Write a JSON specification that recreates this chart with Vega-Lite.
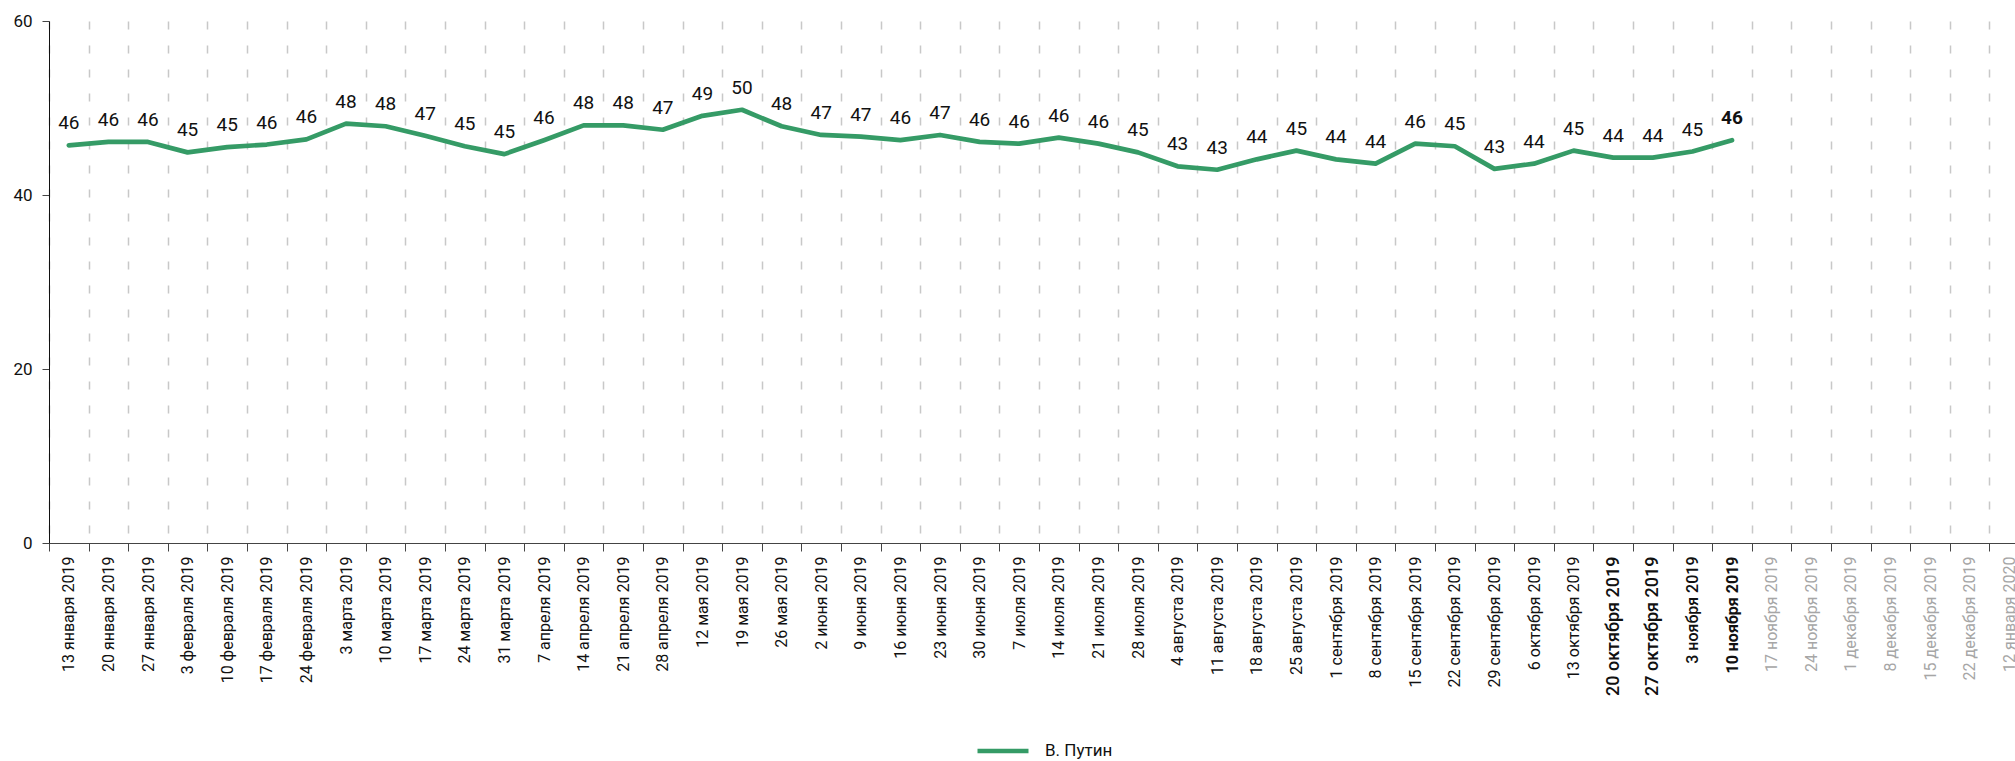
{
  "$schema": "https://vega.github.io/schema/vega-lite/v6.json",
  "autosize": "none",
  "padding": {"left": 49, "top": 21, "right": 0, "bottom": 218},
  "width": 1966,
  "height": 522,
  "config": {"view": {"stroke": null}, "font": "Roboto"},
  "data": {
    "values": [
      {"week": "13 января 2019", "value": 45.7, "label": 46},
      {"week": "20 января 2019", "value": 46.1, "label": 46},
      {"week": "27 января 2019", "value": 46.1, "label": 46},
      {"week": "3 февраля 2019", "value": 44.9, "label": 45},
      {"week": "10 февраля 2019", "value": 45.5, "label": 45},
      {"week": "17 февраля 2019", "value": 45.8, "label": 46},
      {"week": "24 февраля 2019", "value": 46.4, "label": 46},
      {"week": "3 марта 2019", "value": 48.2, "label": 48},
      {"week": "10 марта 2019", "value": 47.9, "label": 48},
      {"week": "17 марта 2019", "value": 46.8, "label": 47},
      {"week": "24 марта 2019", "value": 45.6, "label": 45},
      {"week": "31 марта 2019", "value": 44.7, "label": 45},
      {"week": "7 апреля 2019", "value": 46.3, "label": 46},
      {"week": "14 апреля 2019", "value": 48.0, "label": 48},
      {"week": "21 апреля 2019", "value": 48.0, "label": 48},
      {"week": "28 апреля 2019", "value": 47.5, "label": 47},
      {"week": "12 мая 2019", "value": 49.1, "label": 49},
      {"week": "19 мая 2019", "value": 49.8, "label": 50},
      {"week": "26 мая 2019", "value": 47.9, "label": 48},
      {"week": "2 июня 2019", "value": 46.9, "label": 47},
      {"week": "9 июня 2019", "value": 46.7, "label": 47},
      {"week": "16 июня 2019", "value": 46.3, "label": 46},
      {"week": "23 июня 2019", "value": 46.9, "label": 47},
      {"week": "30 июня 2019", "value": 46.1, "label": 46},
      {"week": "7 июля 2019", "value": 45.9, "label": 46},
      {"week": "14 июля 2019", "value": 46.6, "label": 46},
      {"week": "21 июля 2019", "value": 45.9, "label": 46},
      {"week": "28 июля 2019", "value": 44.9, "label": 45},
      {"week": "4 августа 2019", "value": 43.3, "label": 43},
      {"week": "11 августа 2019", "value": 42.9, "label": 43},
      {"week": "18 августа 2019", "value": 44.1, "label": 44},
      {"week": "25 августа 2019", "value": 45.1, "label": 45},
      {"week": "1 сентября 2019", "value": 44.1, "label": 44},
      {"week": "8 сентября 2019", "value": 43.6, "label": 44},
      {"week": "15 сентября 2019", "value": 45.9, "label": 46},
      {"week": "22 сентября 2019", "value": 45.6, "label": 45},
      {"week": "29 сентября 2019", "value": 43.0, "label": 43},
      {"week": "6 октября 2019", "value": 43.6, "label": 44},
      {"week": "13 октября 2019", "value": 45.1, "label": 45},
      {"week": "20 октября 2019", "value": 44.3, "label": 44},
      {"week": "27 октября 2019", "value": 44.3, "label": 44},
      {"week": "3 ноября 2019", "value": 45.0, "label": 45},
      {"week": "10 ноября 2019", "value": 46.3, "label": 46}
    ]
  },
  "encoding": {
    "x": {
      "field": "week",
      "type": "ordinal",
      "bandPosition": 0.5,
      "scale": {
        "type": "band",
        "paddingInner": 0,
        "paddingOuter": 0,
        "range": [0, 1980],
        "domain": [
          "13 января 2019", "20 января 2019", "27 января 2019", "3 февраля 2019", "10 февраля 2019",
          "17 февраля 2019", "24 февраля 2019", "3 марта 2019", "10 марта 2019", "17 марта 2019",
          "24 марта 2019", "31 марта 2019", "7 апреля 2019", "14 апреля 2019", "21 апреля 2019",
          "28 апреля 2019", "12 мая 2019", "19 мая 2019", "26 мая 2019", "2 июня 2019",
          "9 июня 2019", "16 июня 2019", "23 июня 2019", "30 июня 2019", "7 июля 2019",
          "14 июля 2019", "21 июля 2019", "28 июля 2019", "4 августа 2019", "11 августа 2019",
          "18 августа 2019", "25 августа 2019", "1 сентября 2019", "8 сентября 2019", "15 сентября 2019",
          "22 сентября 2019", "29 сентября 2019", "6 октября 2019", "13 октября 2019", "20 октября 2019",
          "27 октября 2019", "3 ноября 2019", "10 ноября 2019", "17 ноября 2019", "24 ноября 2019",
          "1 декабря 2019", "8 декабря 2019", "15 декабря 2019", "22 декабря 2019", "12 января 2020"
        ]
      },
      "axis": {
        "title": null,
        "tickBand": "extent",
        "grid": true,
        "gridDash": [8, 16],
        "gridColor": "#c8c8c8",
        "gridWidth": 1.5,
        "domainColor": "#444444",
        "tickColor": "#444444",
        "tickSize": 8,
        "labelPadding": 5,
        "labelAngle": -90,
        "labelFont": "Roboto",
        "labelFontSize": {
          "condition": {"test": "indexof(['20 октября 2019', '27 октября 2019'], datum.label) >= 0", "value": 18},
          "value": 16
        },
        "labelFontWeight": {
          "condition": [
            {"test": "datum.label === '10 ноября 2019'", "value": "bold"},
            {"test": "indexof(['20 октября 2019', '27 октября 2019', '3 ноября 2019'], datum.label) >= 0", "value": 500}
          ],
          "value": "normal"
        },
        "labelColor": {
          "condition": {"test": "indexof(['17 ноября 2019', '24 ноября 2019', '1 декабря 2019', '8 декабря 2019', '15 декабря 2019', '22 декабря 2019', '12 января 2020'], datum.label) >= 0", "value": "#a6a6a6"},
          "value": "#111111"
        }
      }
    },
    "y": {
      "field": "value",
      "type": "quantitative",
      "scale": {"domain": [0, 60], "nice": false},
      "axis": {
        "title": null,
        "values": [0, 20, 40, 60],
        "grid": false,
        "domainColor": "#111111",
        "tickColor": "#444444",
        "tickSize": 7,
        "labelPadding": 10,
        "labelFont": "Roboto",
        "labelFontSize": 17,
        "labelColor": "#111111"
      }
    }
  },
  "layer": [
    {
      "mark": {"type": "line", "strokeWidth": 4.7, "strokeCap": "round", "strokeJoin": "round"},
      "encoding": {
        "color": {
          "datum": "В. Путин",
          "type": "nominal",
          "scale": {"range": ["#359b66"]},
          "legend": {
            "title": null,
            "orient": "none",
            "legendX": 926,
            "legendY": 702,
            "padding": 0,
            "symbolType": "stroke",
            "symbolSize": 2600,
            "symbolStrokeWidth": 4.7,
            "labelFont": "Roboto",
            "labelFontSize": 17,
            "labelOffset": 14,
            "labelColor": "#111111"
          }
        }
      }
    },
    {
      "transform": [{"filter": "datum.week !== '10 ноября 2019'"}],
      "mark": {"type": "text", "dy": -22, "fontSize": 19, "font": "Roboto", "color": "#111111", "baseline": "middle"},
      "encoding": {"text": {"field": "label", "type": "quantitative"}}
    },
    {
      "transform": [{"filter": "datum.week === '10 ноября 2019'"}],
      "mark": {"type": "text", "dy": -22, "fontSize": 19, "font": "Roboto", "fontWeight": "bold", "color": "#111111", "baseline": "middle"},
      "encoding": {"text": {"field": "label", "type": "quantitative"}}
    }
  ]
}
